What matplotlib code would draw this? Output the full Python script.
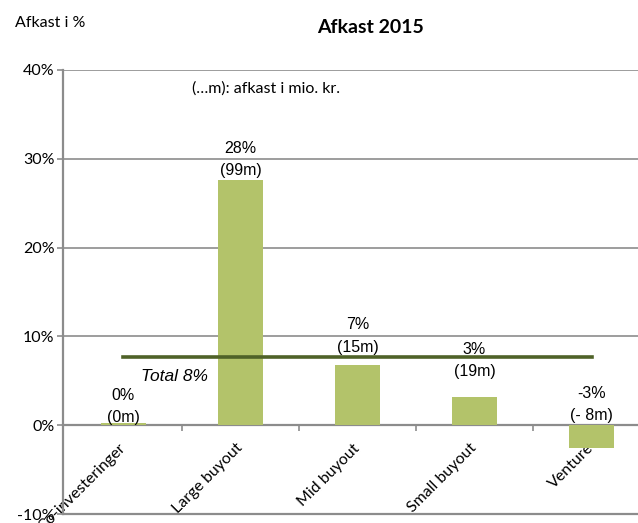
import numpy as np
import matplotlib.pyplot as plt

kategorier = ['Co-investeringer', 'Large buyout', 'Mid buyout', 'Small buyout', 'Venture']
afkast = [0.3, 27.6, 6.8, 3.2, -2.6]
pct_tekst = ['0%', '28%', '7%', '3%', '-3%']
mio_tekst = ['(0m)', '(99m)', '(15m)', '(19m)', '(- 8m)']
total = 7.7

# placering af dataetiketter (i %, som i Excel-diagrammet)
etiket_y = [0.9, 28.7, 8.8, 6.0, 1.1]

fig = plt.figure(figsize=(6.38, 5.23), dpi=100)
ax = fig.add_axes([0.0987, 0.0172, 0.9203, 0.849])

x = np.arange(len(kategorier))
ax.bar(x, afkast, width=0.39, color='#b3c36a', zorder=3)

# total-linje
ax.plot([x[0], x[-1]], [total, total], color='#4f6228', lw=2.6, zorder=4)
ax.text(0.44, 5.5, 'Total 8%', fontsize=12.5, style='italic',
        family='Liberation Sans', ha='center', va='center', zorder=5)

for i in range(len(kategorier)):
    ax.text(x[i], etiket_y[i], mio_tekst[i], ha='center', va='center',
            fontsize=11.5, family='Liberation Sans', zorder=5)
    ax.text(x[i], etiket_y[i] + 2.5, pct_tekst[i], ha='center', va='center',
            fontsize=11.5, family='Liberation Sans', zorder=5)

ax.set_xlim(-0.517, 4.5)
ax.set_ylim(-10, 40)
ax.set_yticks([-10, 0, 10, 20, 30, 40])
ax.set_yticklabels(['-10%', '0%', '10%', '20%', '30%', '40%'], family='Lato', fontsize=11.5)
for yy in [10, 20, 30, 40]:
    ax.axhline(yy, color='#8c8c8c', lw=1.2, zorder=1)
ax.axhline(-10, color='#8c8c8c', lw=1.6, zorder=1, clip_on=False)

ax.spines['bottom'].set_position(('data', 0))
ax.spines['bottom'].set_color('#8c8c8c')
ax.spines['bottom'].set_linewidth(1.6)
ax.spines['left'].set_color('#8c8c8c')
ax.spines['left'].set_linewidth(1.6)
ax.spines['top'].set_visible(False)
ax.spines['right'].set_visible(False)

ax.set_xticks(x)
ax.set_xticklabels(kategorier, rotation=45, ha='right', va='center',
                   rotation_mode='anchor', family='Lato', fontsize=11.5)
ax.tick_params(axis='x', length=0, pad=15)
ax.set_xticks(x[:-1] + 0.5, minor=True)
ax.tick_params(axis='x', which='minor', length=4, width=1.2, color='#8c8c8c', direction='out')
ax.tick_params(axis='y', length=4, width=1.2, color='#8c8c8c', pad=2)

fig.text(0.0235, 0.956, 'Afkast i %', fontsize=11.5, family='Lato', va='center')
fig.text(0.581, 0.948, 'Afkast 2015', fontsize=14, weight='bold', family='Lato',
         ha='center', va='center')
ax.text(0.585, 37.95, '(…m): afkast i mio. kr.', fontsize=11.5, family='Lato', va='center')

fig.savefig('out.png', dpi=100)
